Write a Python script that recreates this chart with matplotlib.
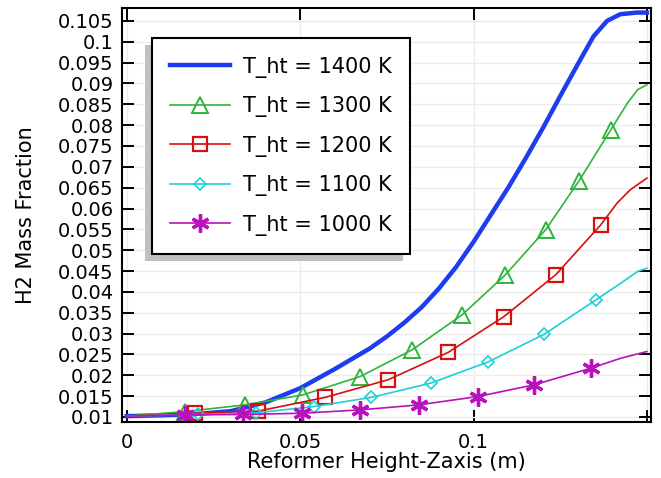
import matplotlib
matplotlib.use("Agg")
import matplotlib.pyplot as plt
from matplotlib.patches import Rectangle
from matplotlib.transforms import IdentityTransform

# Data (x in m, y = H2 mass fraction)
x_1400 = [0, 0.01, 0.02, 0.03, 0.04, 0.05, 0.06, 0.07, 0.075, 0.08, 0.085, 0.09,
          0.095, 0.1, 0.105, 0.11, 0.115, 0.12, 0.126, 0.1308, 0.1346, 0.1385,
          0.1423, 0.1471, 0.15]
y_1400 = [0.0102, 0.0104, 0.0107, 0.0114, 0.0135, 0.0169, 0.0215, 0.0264, 0.0293,
          0.0326, 0.0363, 0.0408, 0.0460, 0.0520, 0.0585, 0.0650, 0.0720, 0.0793,
          0.0885, 0.0957, 0.1013, 0.1050, 0.1066, 0.1070, 0.1070]

x_1300 = [0, 0.0168, 0.0341, 0.0508, 0.0673, 0.0823, 0.0967, 0.1092, 0.1208,
          0.1303, 0.1396, 0.1444, 0.1473, 0.15]
y_1300 = [0.0102, 0.0113, 0.0129, 0.0153, 0.0197, 0.0261, 0.0345, 0.0441, 0.0549,
          0.0665, 0.0789, 0.0853, 0.0885, 0.0897]
mk_1300 = [1, 2, 3, 4, 5, 6, 7, 8, 9, 10]

x_1200 = [0, 0.0197, 0.0379, 0.0572, 0.0753, 0.0927, 0.1088, 0.1237, 0.1367,
          0.1414, 0.1452, 0.15]
y_1200 = [0.0102, 0.0109, 0.0114, 0.0147, 0.0189, 0.0255, 0.0341, 0.0441, 0.0561,
          0.0613, 0.0645, 0.0673]
mk_1200 = [1, 2, 3, 4, 5, 6, 7, 8]

x_1100 = [0, 0.0205, 0.0373, 0.054, 0.0705, 0.0876, 0.1042, 0.1203, 0.1353,
          0.1425, 0.1473, 0.15]
y_1100 = [0.0102, 0.0106, 0.0110, 0.0125, 0.0147, 0.0181, 0.0232, 0.0298, 0.0381,
          0.0421, 0.0449, 0.0457]
mk_1100 = [1, 2, 3, 4, 5, 6, 7, 8]

x_1000 = [0, 0.0168, 0.0336, 0.0505, 0.0673, 0.0842, 0.1012, 0.1174, 0.1338,
          0.1425, 0.15]
y_1000 = [0.0102, 0.0105, 0.0106, 0.0109, 0.0117, 0.0129, 0.0149, 0.0177, 0.0217,
          0.0241, 0.0257]
mk_1000 = [1, 2, 3, 4, 5, 6, 7, 8]

labels = ["T_ht = 1400 K", "T_ht = 1300 K", "T_ht = 1200 K",
          "T_ht = 1100 K", "T_ht = 1000 K"]

x_ticks = [0, 0.05, 0.1, 0.15]
x_ticklabels = ["0", "0.05", "0.1", ""]
y_ticks = [0.01, 0.015, 0.02, 0.025, 0.03, 0.035, 0.04, 0.045, 0.05, 0.055,
           0.06, 0.065, 0.07, 0.075, 0.08, 0.085, 0.09, 0.095, 0.1, 0.105]
y_ticklabels = ["0.01", "0.015", "0.02", "0.025", "0.03", "0.035", "0.04", "0.045",
                "0.05", "0.055", "0.06", "0.065", "0.07", "0.075", "0.08", "0.085",
                "0.09", "0.095", "0.1", "0.105"]

fig = plt.figure(figsize=(6.61, 4.78), dpi=100)
ax = fig.add_axes([0.1846, 0.1178, 0.8004, 0.8655])

ax.plot(x_1400, y_1400, color="#1e3cf0", lw=3.2, label=labels[0])
ax.plot(x_1300, y_1300, color="#2db53c", lw=1.2, marker="^", ms=11, mfc="none",
        mew=1.4, markevery=mk_1300, label=labels[1])
ax.plot(x_1200, y_1200, color="#d61010", lw=1.2, marker="s", ms=9.5, mfc="none",
        mew=1.6, markevery=mk_1200, label=labels[2])
ax.plot(x_1100, y_1100, color="#1ecfd6", lw=1.2, marker="D", ms=6.3, mfc="none",
        mew=1.2, markevery=mk_1100, label=labels[3])
ax.plot(x_1000, y_1000, color="#b811bd", lw=1.2, marker=(6, 2, 0), ms=13,
        mew=2.4, markevery=mk_1000, label=labels[4])

ax.set_xlim(-0.00136, 0.1512)
ax.set_ylim(0.00887, 0.1081)
ax.set_xticks(x_ticks)
ax.set_xticklabels(x_ticklabels)
ax.set_yticks(y_ticks)
ax.set_yticklabels(y_ticklabels)
ax.grid(True, color="#ebebeb", lw=1.0)
ax.set_axisbelow(True)

ax.tick_params(axis="both", which="major", direction="in", length=8.5, width=1.4,
               labelsize=14, top=True, right=True, color="black")
ax.tick_params(axis="y", pad=6)
ax.tick_params(axis="x", pad=8)
for sp in ax.spines.values():
    sp.set_linewidth(1.5)

ax.set_xlabel("Reformer Height-Zaxis (m)", fontsize=15)
ax.set_ylabel("H2 Mass Fraction", fontsize=15)
ax.xaxis.set_label_coords(0.5, -0.073)
ax.yaxis.set_label_coords(-0.162, 0.5)

leg = ax.legend(loc="upper left", bbox_to_anchor=(0.056, 0.927), borderaxespad=0,
                fontsize=15, fancybox=False, framealpha=1, edgecolor="black",
                handlelength=2.88, handletextpad=0.62, borderpad=0.88,
                labelspacing=0.89)
leg.get_frame().set_linewidth(1.5)

# grey drop shadow, offset down-left like the original
fig.canvas.draw()
bb = leg.get_window_extent()
ax.add_patch(Rectangle((bb.x0 - 6.5, bb.y0 - 6.5), bb.width, bb.height,
                       transform=IdentityTransform(), facecolor="#c0c0c0",
                       edgecolor="none", zorder=4.5, clip_on=False))

fig.savefig("out.png", dpi=100)
